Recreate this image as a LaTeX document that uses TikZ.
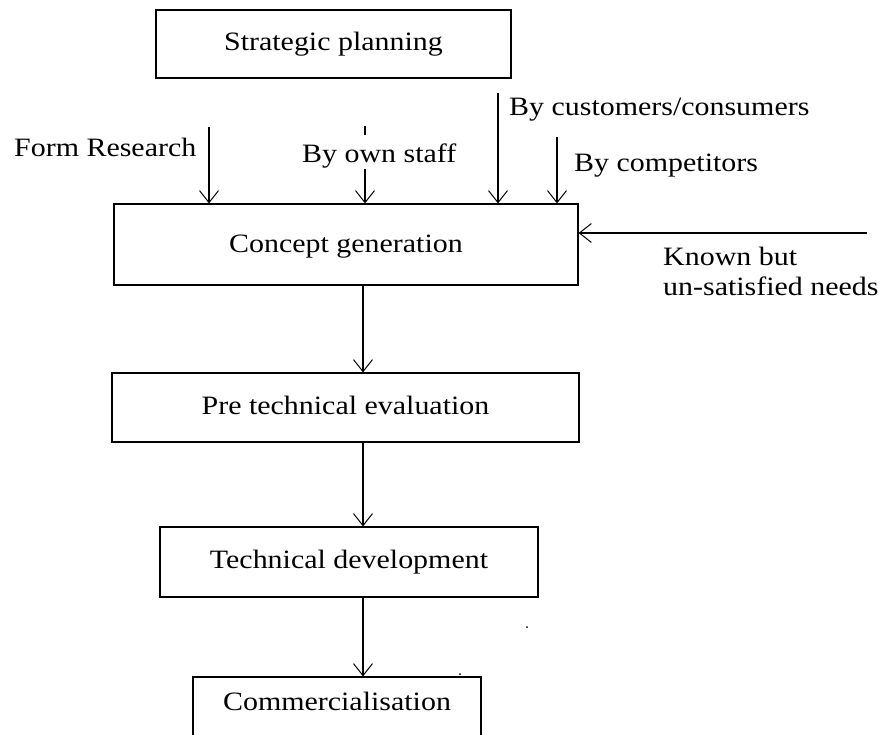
\documentclass[tikz,border=0pt]{standalone}
\usepackage{fontspec}
\setmainfont{Liberation Serif}[FakeStretch=1.13]
\usetikzlibrary{arrows.meta}

\begin{document}
\begin{tikzpicture}[x=1pt,y=-1pt,
  txt/.style={font=\fontsize{26.5}{30}\selectfont, inner sep=0pt},
  stage/.style={txt, draw, line width=1.2pt, anchor=base},
  arr/.style={line width=1.1pt, -{Straight Barb[length=12pt,width=19pt,line width=1pt]}},
  label/.style={txt, anchor=base west, align=left}]

\useasboundingbox (0,0) rectangle (884,734);
\clip (0,0) rectangle (884,734);

% process stages (anchored on the text baseline)
\node[stage, minimum width=355pt, text height=40pt, text depth=28pt] (strat) at (333.5,50) {Strategic planning};
\node[stage, minimum width=464pt, text height=48pt, text depth=33pt] (concept) at (346,252) {Concept generation};
\node[stage, minimum width=467pt, text height=41pt, text depth=28pt] (pre) at (345.5,414) {Pre technical evaluation};
\node[stage, minimum width=378pt, text height=41pt, text depth=29pt] (tech) at (349,568) {Technical development};
\node[stage, minimum width=288pt, text height=33pt, text depth=50pt] (comm) at (337,710) {Commercialisation};

% main flow
\coordinate (spine) at (363,0);
\draw[arr] (concept.south -| spine) -- (pre.north -| spine);
\draw[arr] (pre.south -| spine) -- (tech.north -| spine);
\draw[arr] (tech.south -| spine) -- (comm.north -| spine);

% sources of concepts
\coordinate (fr) at (209,127);
\coordinate (os) at (365,126);
\coordinate (cc) at (498,93);
\coordinate (cp) at (557,137);
\coordinate (kn) at (867,233);

\draw[arr] (fr) -- (fr |- concept.north);
\draw[arr] (os) -- (os |- concept.north);
\draw[arr] (cc) -- (cc |- concept.north);
\draw[arr] (cp) -- (cp |- concept.north);
\draw[arr] (kn) -- (kn -| concept.east);

\node[label] (lfr) at (14,156) {Form Research};
\node[label, fill=white, text height=27pt, text depth=7pt] (los) at (302,162) {By own staff};
\node[label] (lcc) at (509,115) {By customers/consumers};
\node[label] (lcp) at (574,171) {By competitors};
% multi-line node: the base anchor sits on the last line
\node[label] (lkn) at (663,295) {Known but\\un-satisfied needs};

% stray specks
\fill (527,627) circle (1pt);
\fill (460,674) circle (1pt);
\end{tikzpicture}
\end{document}
